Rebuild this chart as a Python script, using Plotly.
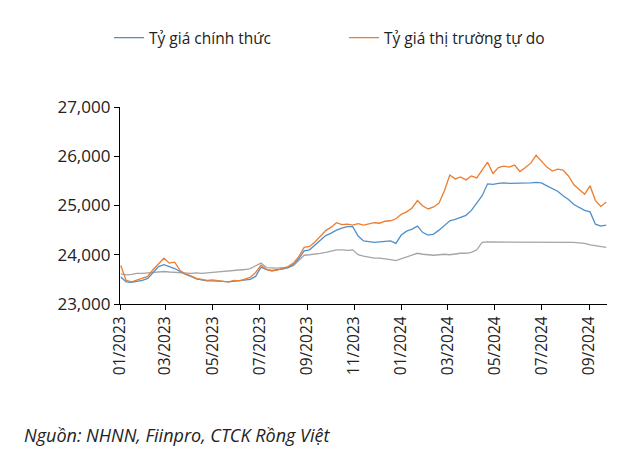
import pandas as pd
import plotly.graph_objects as go

# weekly observations, Mondays from 02/01/2023
DATES = pd.date_range('2023-01-02', periods=91, freq='7D')

OFFICIAL = [23550, 23450, 23440, 23460, 23480, 23520, 23640, 23760, 23800, 23760,
            23720, 23660, 23600, 23560, 23510, 23490, 23470, 23470, 23470, 23460,
            23450, 23460, 23470, 23480, 23500, 23560, 23750, 23700, 23680, 23700,
            23710, 23740, 23800, 23920, 24080, 24100, 24200, 24310, 24390, 24440,
            24500, 24540, 24570, 24570, 24380, 24280, 24260, 24250, 24260, 24270,
            24280, 24230, 24400, 24480, 24520, 24580, 24450, 24400, 24420, 24500,
            24600, 24690, 24720, 24760, 24800, 24900, 25050, 25200, 25440, 25430,
            25450, 25460, 25450, 25450, 25460, 25460, 25460, 25470, 25460, 25400,
            25340, 25290, 25200, 25120, 25020, 24960, 24900, 24870, 24620, 24580,
            24600]

FREE_MARKET = [23780, 23480, 23450, 23490, 23520, 23560, 23700, 23820, 23930, 23830,
               23850, 23680, 23610, 23570, 23520, 23500, 23480, 23490, 23470, 23460,
               23450, 23480, 23470, 23500, 23540, 23640, 23790, 23700, 23670, 23690,
               23720, 23760, 23830, 23960, 24150, 24170, 24260, 24380, 24490, 24560,
               24650, 24610, 24620, 24600, 24630, 24600, 24620, 24650, 24640, 24680,
               24690, 24730, 24820, 24870, 24950, 25100, 24990, 24930, 24970, 25050,
               25300, 25620, 25540, 25580, 25520, 25600, 25560, 25720, 25880, 25650,
               25770, 25800, 25780, 25820, 25690, 25770, 25860, 26020, 25890, 25780,
               25700, 25740, 25720, 25600, 25420, 25330, 25230, 25400, 25100, 24980,
               25070]

CENTRAL = [23610, 23590, 23600, 23620, 23620, 23630, 23640, 23650, 23660, 23650,
           23640, 23630, 23620, 23620, 23630, 23620, 23630, 23640, 23650, 23660,
           23660, 23670, 23690, 23700, 23720, 23770, 23830, 23740, 23730, 23730,
           23740, 23740, 23780, 23880, 23990, 24000, 24010, 24030, 24050, 24080,
           24100, 24100, 24090, 24100, 24000, 23970, 23950, 23930, 23930, 23920,
           23900, 23880, 23920, 23950, 24000, 24030, 24010, 24000, 23990, 24000,
           24010, 24000, 24020, 24030, 24030, 24050, 24100, 24250, 24260, 24260,
           24250, 24260, 24250, 24260, 24250, 24260, 24250, 24260, 24250, 24260,
           24260, 24250, 24260, 24260, 24250, 24240, 24230, 24200, 24180, 24160,
           24150]

FONT = 'Open Sans, Noto Sans, sans-serif'

fig = go.Figure()
fig.add_trace(go.Scatter(x=DATES, y=CENTRAL, mode='lines', showlegend=False,
                         line=dict(color='#A5A5A5', width=1.3)))
fig.add_trace(go.Scatter(x=DATES, y=OFFICIAL, mode='lines', name='Tỷ giá chính thức',
                         line=dict(color='#4F8FCC', width=1.3)))
fig.add_trace(go.Scatter(x=DATES, y=FREE_MARKET, mode='lines', name='Tỷ giá thị trường tự do',
                         line=dict(color='#ED7D31', width=1.3)))

# page body adds an 8px offset, margins compensate for it
fig.update_layout(
    width=636, height=455,
    margin=dict(l=112, r=37, t=99, b=159, autoexpand=False),
    paper_bgcolor='white', plot_bgcolor='white',
    font=dict(family=FONT, color='#222222'),
    legend=dict(orientation='h', x=0.46, xanchor='center', y=1.35, yanchor='middle',
                font=dict(size=15.5), entrywidth=190, traceorder='normal'),
    annotations=[dict(text='<i>Nguồn: NHNN, Fiinpro, CTCK Rồng Việt</i>',
                      xref='paper', yref='paper', x=-0.201, y=-0.665,
                      xanchor='left', yanchor='middle', showarrow=False,
                      font=dict(size=18, color='#222222'))],
)

fig.update_xaxes(
    range=['2023-01-01', '2024-09-24'],
    tick0='2023-01-01', dtick='M2', tickformat='%m/%Y', tickangle=-90,
    showline=True, linecolor='black', linewidth=1.3,
    ticks='outside', ticklen=5, tickcolor='black',
    showgrid=False, zeroline=False,
    tickfont=dict(size=15.5, color='#222222'),
)
fig.update_yaxes(
    range=[23000, 27000], dtick=1000, tickformat=',',
    showline=True, linecolor='black', linewidth=1.3,
    ticks='outside', ticklen=5, tickcolor='black',
    showgrid=False, zeroline=False,
    tickfont=dict(size=17, color='#222222'),
)

fig.write_html('out.html')
